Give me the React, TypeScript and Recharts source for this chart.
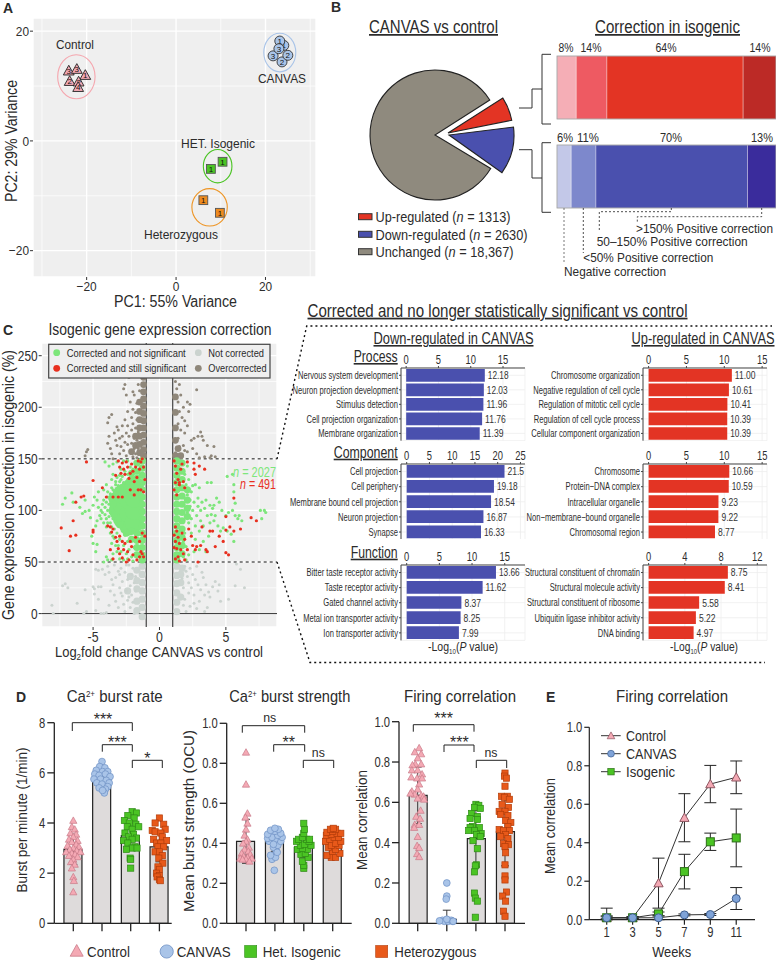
import {
  Bar,
  BarChart,
  CartesianGrid,
  Cell,
  ComposedChart,
  ErrorBar,
  LabelList,
  Line,
  Pie,
  PieChart,
  ReferenceLine,
  Scatter,
  ScatterChart,
  XAxis,
  YAxis,
} from "recharts";

const SANS = '"Liberation Sans", Arial, sans-serif';
const INK = "#2b2b2b";

// ---- A: PCA
const pcaControl = [
  { x: -24, y: 12.8, label: "3" },
  { x: -22.2, y: 13.1, label: "3" },
  { x: -20.3, y: 12, label: "1" },
  { x: -23.8, y: 10.9, label: "2" },
  { x: -21.8, y: 10.8, label: "2" },
  { x: -21.9, y: 9.8, label: "4" },
];
const pcaCanvas = [
  { x: 24.1, y: 17.4, label: "1" },
  { x: 23.2, y: 18.2, label: "1" },
  { x: 23.7, y: 14.4, label: "2" },
  { x: 21.7, y: 15.5, label: "3" },
  { x: 25, y: 15.6, label: "2" },
  { x: 23, y: 16.8, label: "3" },
];
const pcaIsogenic = [
  { x: 10.4, y: -3.8, label: "1" },
  { x: 7.8, y: -5.1, label: "1" },
];
const pcaHet = [
  { x: 6.1, y: -10.8, label: "1" },
  { x: 9.8, y: -13.1, label: "1" },
];
const ringControl = [{ x: -22.3, y: 11.7 }];
const ringCanvas = [{ x: 23.2, y: 16.1 }];
const ringIsogenic = [{ x: 9.3, y: -4.6 }];
const ringHet = [{ x: 7.5, y: -12.1 }];

// ---- B: pie and stacked bars
const pieSlices = [
  { name: "Up-regulated", value: 1313 },
  { name: "Down-regulated", value: 2630 },
  { name: "Unchanged", value: 18367 },
];
const upShares = [8.8, 14, 62.2, 15];
const downShares = [6.5, 11.3, 69.2, 13];
const upColors = ["#F5AEB6", "#EE5A62", "#E33424", "#BC2A26"];
const downColors = ["#C3C8E8", "#7D88CC", "#4A50AE", "#3A2C9C"];

// ---- C: volcano-like scatter, each list
const notCorrected = [
  [-8.1, 8], [-8, 0], [-7.3, 27], [-7.1, 29], [-6.9, 25], [-6.2, 10], [-5.7, 0], [-5.6, 23], [-5, 26], [-4.9, 24], [-4.9, 19], [-4.6, 26],
  [-4.4, 26], [-4.6, 14], [-4.8, 3], [-4.4, 0], [-4.2, 0], [-4, 1], [-4.8, 43], [-4.6, 42], [-4.3, 43], [-4.1, 38], [-3.9, 46], [-3.8, 40],
  [-3.6, 33], [-3.5, 28], [-3.7, 22], [-3.4, 18], [-3.3, 12], [-3.1, 6], [-3, 25], [-3, 38], [-2.9, 44], [-2.8, 31], [-2.8, 17], [-2.7, 9],
  [-2.6, 2], [-2.6, 40], [-2.5, 22], [-2.4, 13], [-2.4, 33], [-2.3, 47], [-2.2, 27], [-2.2, 6], [-2.1, 18], [-2.1, 38], [-2, 11], [-2, 44],
  [-1.9, 0], [-1.9, 30], [-1.8, 22], [-1.8, 36], [-3.3, 35], [-3.4, 47], [-3.1, 41], [-2.9, 20], [-2.5, 47], [-2.3, 16], [-5.5, 2], [-3.8, 8],
  [1.9, 46], [2, 41], [2.1, 36], [2.2, 30], [2.3, 44], [2.4, 25], [2.5, 38], [2.6, 18], [2.7, 33], [2.8, 46], [2.9, 28], [3, 12], [3.1, 23],
  [3.2, 40], [3.3, 35], [3.4, 18], [3.5, 28], [3.6, 6], [3.7, 21], [3.8, 16], [4, 26], [4.2, 31], [4.4, 22], [4.6, 12], [4.5, 28], [5.2, 14],
  [5.7, 27], [6.4, 25], [6.1, 43], [5.8, 48], [2, 2], [2.3, 7], [1.9, 14], [2.2, 20], [2.8, 5], [3.4, 2], [2.6, 10], [1.8, 25], [1.7, 34], [1.8, 8],
];
const notCorrectedDense = [
  [-1.3, 46], [-1.3, 38], [-1.3, 30], [-1.3, 22], [-1.3, 14], [-1.3, 6], [-1.3, -3], [-1.7, 42], [-1.7, 32], [-1.7, 24], [-1.7, 12], [-1.7, 3],
  [1.3, 46], [1.3, 37], [1.3, 29], [1.3, 20], [1.3, 11], [1.3, 2], [1.7, 44], [1.6, 30], [1.6, 16], [-2.2, 36], [-2.4, 22], [1.6, 38],
];
const corrected = [
  [-7.1, 112], [-6.6, 117], [-7.3, 106], [-6.5, 108], [-5.6, 110], [-6, 103], [-5.8, 97], [-5.6, 99], [-5.3, 100], [-5, 105], [-4.9, 113],
  [-4.7, 110], [-4.6, 118], [-4.2, 120], [-4, 125], [-3.9, 118], [-3.6, 130], [-3.5, 135], [-3.3, 125], [-3, 128], [-5.2, 93], [-4.8, 85],
  [-4.7, 90], [-4.5, 95], [-4.4, 100], [-4.1, 103], [-5.1, 75], [-5, 68], [-4.8, 60], [-4.7, 67], [-4.2, 50], [-4, 55], [-3.9, 52], [-3.6, 68],
  [-3.7, 78], [-3.5, 58], [-3.2, 60], [-3.4, 73], [-2.9, 140], [-2.8, 133], [-4.1, 147], [-3.8, 143], [-3.5, 145], [-3.2, 147], [-2.7, 148],
  [-2.4, 135], [-2.2, 142], [-2, 130], [-3.9, 113], [-3.8, 106], [-3.7, 98], [-4, 92], [-3.9, 88], [-3.6, 122], [-3.4, 118], [-3.2, 132],
  [-3.1, 118], [-2.9, 124], [-2.6, 122], [-2.5, 128], [-2.3, 126], [-2, 140], [-1.8, 146], [-2.4, 148], [-3.4, 82], [-3.2, 78], [-3, 72],
  [-2.8, 80], [-2.6, 76], [-2.4, 70], [-2.2, 78], [-2, 72], [-3.1, 66], [-2.9, 60], [-2.7, 66], [-2.5, 58], [-2.3, 62], [-2.1, 55], [-1.9, 64],
  [-3, 53], [-2.7, 52], [-2.4, 53], [-2, 51], [-1.8, 58], [-3.6, 52], [-3.3, 90], [-4.2, 110], [-4.3, 98], [-4.6, 103],
  [-4.4, 92], [-4.2, 88], [-4, 84], [-3.8, 94], [-3.7, 88], [-3.6, 84], [-3.5, 92], [-4.1, 96], [-4.3, 106], [-4, 108], [-3.9, 100], [-3.7, 116],
  [-3.5, 120], [-3.4, 112], [-3.3, 128], [-3.1, 124], [-3, 134], [-2.9, 130], [-2.7, 127], [-2.6, 138], [-2.4, 130], [-2.2, 132], [-3.5, 75], [-3.3, 66],
  [1.7, 147], [1.9, 135], [2, 125], [2.2, 130], [2.4, 118], [2.7, 125], [3, 122], [3.6, 127], [3.9, 127], [2.9, 112], [3.2, 108], [3.5, 110],
  [3.8, 105], [4, 102], [4.3, 112], [4.5, 108], [4.7, 100], [5, 95], [5.2, 98], [5.5, 100], [5.1, 133], [5.5, 135], [5.6, 125], [5.6, 118],
  [5.7, 107], [5.7, 95], [5.9, 92], [6, 95], [6.2, 90], [7.6, 100], [7.9, 100], [8, 98], [7.7, 92], [2.5, 100], [2.8, 95], [3.1, 90], [3.3, 85],
  [3.6, 95], [3.8, 88], [4.1, 90], [4.4, 85], [4.6, 80], [4.8, 83], [5.1, 80], [5.4, 77], [5.6, 70], [2.2, 88], [2.4, 78], [2.7, 72], [3, 80],
  [3.3, 70], [3.7, 75], [2, 65], [2.2, 57], [2.6, 60], [3, 62], [3.5, 60], [2.3, 110], [2.6, 108], [2.9, 104], [3.1, 100], [3.4, 102], [3.9, 96],
  [4.2, 95], [2.1, 98], [2.4, 92], [2.7, 85], [1.9, 78], [1.8, 70], [1.8, 55], [2, 52], [2.1, 115], [2.3, 104], [2.5, 124], [2.1, 143], [4.1, 105],
];
const correctedCoreLarge = [
  [-3.1, 100], [-3.1, 110], [-2.8, 92], [-2.8, 105], [-2.8, 116], [-2.3, 85], [-2.3, 97], [-2.3, 110], [-2.3, 120], [-1.9, 88], [-1.9, 100], [-1.9, 112], [-1.9, 124],
];
const correctedCoreSmall = [
  [-1.3, 148], [-1.3, 141], [-1.3, 134], [-1.3, 127], [-1.3, 120], [-1.3, 113], [-1.3, 106], [-1.3, 99], [-1.3, 92], [-1.3, 85], [-1.3, 78], [-1.3, 71], [-1.3, 64], [-1.3, 57], [-1.3, 52],
  [-1.7, 146], [-1.7, 138], [-1.7, 131], [-1.7, 124], [-1.7, 78], [-1.7, 71], [-1.7, 64], [-1.7, 57], [-2.1, 136], [-2.1, 130], [-2.1, 80], [-2.1, 72], [-2.5, 78], [-3, 86], [-3.4, 96], [-3.5, 106], [-3.6, 112],
  [1.3, 148], [1.3, 141], [1.3, 134], [1.3, 127], [1.3, 120], [1.3, 113], [1.3, 106], [1.3, 99], [1.3, 92], [1.3, 85], [1.3, 78], [1.3, 71], [1.3, 64], [1.3, 57], [1.3, 52],
  [1.7, 146], [1.7, 138], [1.7, 130], [1.7, 122], [1.7, 114], [1.7, 106], [1.7, 98], [1.7, 90], [1.7, 82], [1.7, 74], [1.7, 66], [1.7, 58], [2.1, 120], [2.1, 110], [2.1, 102], [2.1, 94],
];
const stillSignificant = [
  [-7.4, 83], [-6.7, 75], [-6.3, 76], [-6.8, 61], [-6.5, 90], [-6.3, 108], [-5.9, 113], [-5.7, 114], [-5.5, 147], [-5, 129], [-5, 81], [-5, 79],
  [-4.3, 122], [-4, 113], [-3.9, 85], [-3.7, 84], [-3.5, 82], [-3.7, 62], [-3.5, 53], [-3.6, 79], [-3.3, 74], [-3.2, 70], [-3.1, 63], [-3, 58],
  [-3, 75], [-2.8, 70], [-2.8, 54], [-2.7, 62], [-2.6, 68], [-2.5, 50], [-2.4, 60], [-2.3, 52], [-2.2, 70], [-2.1, 65], [-2, 57], [-1.8, 74], [-1.7, 52],
  [-1.5, 55], [-1.4, 60], [-1.3, 58], [-1.2, 55], [-1.1, 75], [-1.5, 70], [-1.3, 78], [-3.1, 148], [-3, 142], [-2.9, 136], [-2.8, 146], [-2.7, 140],
  [-2.6, 135], [-2.5, 147], [-2.4, 142], [-2.3, 131], [-2.2, 136], [-2.1, 145], [-2, 138], [-1.9, 128], [-1.8, 142], [-1.7, 132], [-1.6, 148], [-1.5, 140],
  [-1.4, 147], [-1.3, 150], [-1.2, 142], [-1.1, 130], [-1.4, 120], [-1.6, 120], [-1.2, 118], [-3.3, 134], [-3.5, 113], [-3.1, 113], [-2.8, 113], [-1.9, 115], [-2.2, 120],
  [1.1, 148], [1.2, 143], [1.3, 136], [1.4, 130], [1.2, 127], [1.5, 125], [1.6, 140], [1.7, 145], [1.8, 128], [1.9, 122], [2.1, 147], [2.6, 146], [2.7, 135],
  [3, 143], [3.4, 140], [1.1, 120], [1.3, 115], [1.5, 127], [1.2, 84], [1.3, 80], [1.1, 76], [1.2, 70], [1.4, 74], [1.1, 64], [1.3, 63], [1.5, 68],
  [1.7, 78], [1.9, 72], [1.6, 62], [1.8, 58], [1.4, 55], [1.2, 53], [1.5, 51], [1.9, 52], [2.1, 62], [2.2, 82], [2.4, 75], [2.5, 66], [2.7, 62], [2.8, 65],
  [2.9, 50], [3.2, 84], [3.1, 66], [3.5, 62], [3.6, 60], [3.8, 80], [4, 80], [4.2, 65], [4.5, 75], [4.8, 70], [5, 59], [5.2, 57], [5, 81], [5, 94],
  [5.6, 112], [5.3, 84], [5.6, 80], [6.1, 82], [6.9, 93], [7.3, 90], [2.6, 140],
];
const overcorrected = [
  [-5.5, 157], [-5.4, 159], [-5.6, 153], [-3.9, 165], [-3.8, 172], [-3.7, 160], [-3.6, 155], [-3.4, 175], [-3.3, 168], [-3.2, 163], [-3.1, 178], [-3, 170],
  [-3, 155], [-2.9, 162], [-2.8, 182], [-2.8, 172], [-2.7, 158], [-2.6, 188], [-2.6, 166], [-2.5, 175], [-2.5, 153], [-2.4, 196], [-2.4, 182], [-2.4, 164],
  [-2.3, 172], [-2.2, 158], [-2.2, 205], [-2.1, 190], [-2.1, 178], [-2.1, 165], [-2, 152], [-2, 198], [-2, 184], [-1.9, 170], [-1.9, 160], [-1.9, 212],
  [-1.8, 195], [-1.8, 180], [-1.8, 155], [-1.7, 204], [-1.7, 188], [-1.7, 168], [-1.7, 151], [-1.6, 222], [-1.6, 176], [-1.6, 160], [-3.8, 190], [-3.6, 193],
  [-3.9, 185], [-2.7, 218], [-2.6, 222], [-2.5, 212], [-2.3, 229], [-1.5, 232], [-1.4, 240], [-1.3, 247], [-1.5, 216], [-2, 215], [-3.2, 181], [-3.5, 150],
  [1.2, 225], [1.3, 218], [1.5, 222], [1.6, 212], [1.4, 205], [1.8, 200], [2.1, 205], [2.3, 203], [2.8, 217], [1.5, 196], [1.7, 190], [1.9, 187], [2.2, 196],
  [1.4, 184], [1.6, 178], [1.9, 175], [2.1, 182], [2.4, 168], [2.6, 170], [2.9, 172], [3.1, 176], [3.2, 172], [3.3, 168], [3.6, 163], [4.1, 162], [1.8, 163],
  [2.1, 157], [2.5, 160], [2.8, 155], [3, 151], [3.4, 152], [3.8, 151], [3.9, 153], [4.2, 152], [1.4, 170], [1.5, 162], [1.9, 158], [1.2, 156],
];
const overcorrectedDense = [
  [-1.2, 250], [-1.2, 243], [-1.2, 236], [-1.2, 229], [-1.2, 222], [-1.2, 215], [-1.2, 208], [-1.2, 201], [-1.2, 194], [-1.2, 187], [-1.2, 180], [-1.2, 173], [-1.2, 166], [-1.2, 159], [-1.2, 153],
  [-1.5, 205], [-1.5, 196], [-1.5, 188], [-1.5, 180], [-1.5, 172], [-1.5, 164], [-1.5, 156], [-1.8, 172], [-1.8, 163], [-2.1, 157],
  [1.2, 210], [1.2, 195], [1.2, 180], [1.2, 168], [1.2, 153], [1.4, 160], [1.6, 153],
];

// ---- C: enrichment bars
const processDownNames = ["Nervous system development", "Neuron projection development", "Stimulus detection", "Cell projection organization", "Membrane organization"];
const processDownValues = [12.18, 12.03, 11.96, 11.76, 11.39];
const componentDownNames = ["Cell projection", "Cell periphery", "Membrane bound cell projection", "Neuron projection", "Synapse"];
const componentDownValues = [21.5, 19.18, 18.54, 16.87, 16.33];
const functionDownNames = ["Bitter taste receptor activity", "Taste receptor activity", "Gated channel activity", "Metal ion transporter activity", "Ion transporter activity"];
const functionDownValues = [13.66, 11.62, 8.37, 8.25, 7.99];
const processUpNames = ["Chromosome organization", "Negative regulation of cell cycle", "Regulation of mitotic cell cycle", "Regulation of cell cycle process", "Cellular component organization"];
const processUpValues = [11.0, 10.61, 10.41, 10.39, 10.39];
const componentUpNames = ["Chromosome", "Protein−DNA complex", "Intracellular organelle", "Non−membrane−bound organelle", "Chromosomal region"];
const componentUpValues = [10.66, 10.59, 9.23, 9.22, 8.77];
const functionUpNames = ["Structural constituent of chromatin", "Structural molecule activity", "Structural constituent of ribosome", "Ubiquitin ligase inhibitor activity", "DNA binding"];
const functionUpValues = [8.75, 8.41, 5.58, 5.22, 4.97];

// ---- D: bars and swarms, points are [jitter, value]
const rateMeans = [2.95, 5.85, 3.5, 3.05];
const rateSd: any[] = [0.6, 0.28, 0.5, 0.6];
const strengthMeans = [0.41, 0.41, 0.38, 0.4];
const strengthSd: any[] = [0.11, 0.05, 0.05, 0.04];
const firingMeans = [0.635, 0.02, 0.42, 0.455];
const firingSd: any[] = [0.14, [0.02, 0.045], 0.14, 0.17];

const rateControl = [[0, 4.1], [-0.05, 3.85], [0.05, 3.75], [-0.1, 3.6], [0.1, 3.55], [0, 3.45], [-0.15, 3.35], [0.15, 3.3], [-0.05, 3.25], [0.1, 3.15], [-0.2, 3.1], [0.2, 3.05], [0, 3], [-0.12, 2.95], [0.12, 2.9], [-0.25, 2.85], [0.25, 2.85], [-0.05, 2.8], [0.06, 2.75], [-0.15, 2.7], [0.15, 2.65], [0, 2.55], [-0.08, 2.45], [0.05, 2.35], [-0.05, 2.2], [0, 1.85], [0.02, 1.7], [0, 1.25]];
const rateCanvas = [[0, 6.45], [-0.08, 6.25], [0.1, 6.2], [-0.2, 6.1], [0.02, 6.05], [0.2, 6.05], [-0.25, 5.95], [-0.1, 5.9], [0.12, 5.95], [0.28, 5.85], [-0.28, 5.75], [-0.05, 5.75], [0.15, 5.7], [0.25, 5.6], [-0.18, 5.6], [0, 5.55], [0.2, 5.45], [-0.1, 5.4], [0.12, 5.35], [0.08, 5.2], [0.02, 5.3]];
const rateIsogenic = [[0.05, 4.45], [0.2, 4.4], [-0.1, 4.3], [0.12, 4.2], [-0.22, 4.1], [-0.05, 4], [0.18, 3.95], [-0.12, 3.85], [0.28, 3.85], [0.05, 3.75], [-0.2, 3.6], [0.1, 3.55], [-0.08, 3.45], [0.2, 3.4], [-0.25, 3.3], [0.05, 3.35], [-0.1, 3.2], [0.15, 3.05], [0.05, 3], [-0.15, 2.95], [0.22, 3], [-0.02, 2.6], [0, 2.55], [0, 2.2]];
const rateHet = [[0, 4.2], [-0.15, 4], [0.15, 3.95], [-0.25, 3.7], [-0.15, 3.65], [0.2, 3.75], [0.05, 3.6], [-0.2, 3.35], [0.1, 3.45], [0.25, 3.3], [-0.1, 3.2], [0.05, 3.2], [-0.05, 3.05], [0.15, 3.05], [-0.15, 2.85], [0, 2.85], [0.1, 2.7], [-0.02, 2.6], [0.12, 2.4], [-0.05, 2.25], [0, 2.15], [-0.1, 2], [0, 1.9], [-0.08, 1.85], [0, 1.75], [0.03, 1.7]];

const strengthControl = [[0, 0.855], [0, 0.695], [0.05, 0.55], [-0.02, 0.53], [0.05, 0.5], [0, 0.47], [-0.05, 0.44], [0.05, 0.42], [0, 0.41], [-0.1, 0.4], [0.1, 0.38], [-0.05, 0.37], [0.08, 0.36], [-0.15, 0.35], [0.15, 0.345], [-0.08, 0.335], [0.05, 0.33], [-0.2, 0.325], [0.2, 0.325], [0, 0.32], [0.12, 0.31], [-0.12, 0.32]];
const strengthCanvas = [[-0.02, 0.265], [-0.1, 0.32], [0.02, 0.33], [-0.15, 0.34], [0.05, 0.36], [-0.05, 0.38], [0.1, 0.39], [-0.2, 0.41], [0.2, 0.41], [0, 0.42], [-0.25, 0.425], [0.25, 0.43], [-0.1, 0.43], [0.1, 0.44], [-0.25, 0.445], [0.2, 0.45], [0, 0.46], [-0.15, 0.465], [0.12, 0.47], [0, 0.475], [-0.05, 0.395], [0.08, 0.355]];
const strengthIsogenic = [[0, 0.275], [0, 0.29], [-0.05, 0.31], [0.15, 0.33], [-0.1, 0.345], [0.05, 0.35], [-0.22, 0.37], [0.12, 0.37], [-0.05, 0.375], [0.25, 0.39], [-0.12, 0.39], [0.02, 0.395], [-0.25, 0.41], [0.18, 0.41], [0.1, 0.42], [-0.18, 0.42], [0.2, 0.42], [-0.05, 0.43], [0, 0.45], [0.02, 0.47], [0, 0.5]];
const strengthHet = [[-0.05, 0.33], [0.1, 0.33], [-0.2, 0.34], [0.25, 0.35], [0, 0.36], [0.1, 0.37], [-0.15, 0.38], [0.22, 0.39], [-0.05, 0.39], [0.1, 0.4], [-0.25, 0.41], [0.28, 0.41], [-0.1, 0.42], [0.05, 0.43], [0.2, 0.43], [-0.22, 0.44], [-0.05, 0.445], [0.15, 0.45], [0.28, 0.45], [-0.2, 0.455], [0, 0.46], [0.1, 0.47], [-0.08, 0.47], [0.02, 0.475]];

const firingControl = [[0.05, 0.87], [-0.1, 0.85], [0.12, 0.84], [0, 0.82], [-0.08, 0.79], [-0.18, 0.785], [0.12, 0.79], [-0.2, 0.76], [0, 0.76], [0.15, 0.74], [-0.22, 0.725], [-0.02, 0.72], [0.15, 0.72], [0.05, 0.69], [0, 0.665], [-0.2, 0.655], [-0.1, 0.64], [-0.25, 0.645], [0.12, 0.635], [0.2, 0.63], [0, 0.62], [0.22, 0.615], [0.1, 0.56], [-0.05, 0.53], [0.08, 0.52], [-0.1, 0.49], [0.05, 0.49], [-0.12, 0.475], [0, 0.43], [-0.02, 0.385], [0.05, 0.375], [-0.02, 0.345], [0.05, 0.33]];
const firingCanvas = [[0, 0.2], [0, 0.135], [-0.02, 0.12], [-0.15, 0.015], [-0.08, 0.01], [0.05, 0.01], [0.15, 0.015], [-0.25, 0.012], [0.2, 0.01], [0, 0.02], [0.22, 0.01]];
const firingIsogenic = [[0, 0.59], [0.1, 0.585], [-0.05, 0.575], [0.15, 0.57], [-0.15, 0.545], [0.05, 0.53], [-0.2, 0.52], [0.05, 0.515], [-0.12, 0.48], [-0.2, 0.475], [0.12, 0.475], [-0.05, 0.46], [-0.25, 0.46], [0.18, 0.445], [0.02, 0.44], [0.15, 0.43], [-0.1, 0.41], [0.05, 0.37], [0.02, 0.29], [-0.02, 0.285], [-0.05, 0.255], [-0.05, 0.15], [-0.02, 0.125], [0.05, 0.11], [-0.02, 0.03]];
const firingHet = [[0, 0.745], [-0.02, 0.73], [0.05, 0.72], [0, 0.68], [-0.12, 0.63], [0.08, 0.63], [-0.02, 0.625], [0.15, 0.615], [-0.1, 0.59], [0.12, 0.575], [-0.2, 0.555], [0, 0.555], [-0.15, 0.54], [0.1, 0.535], [0.02, 0.51], [0.2, 0.5], [0.1, 0.48], [-0.2, 0.465], [-0.05, 0.46], [0.15, 0.46], [0.02, 0.44], [-0.15, 0.43], [0.1, 0.42], [-0.05, 0.395], [0.12, 0.39], [0, 0.38], [0.02, 0.35], [0, 0.29], [0, 0.235], [0, 0.215], [0.05, 0.155], [-0.08, 0.135], [0.02, 0.11], [-0.05, 0.06], [0, 0.035]];

// ---- E: time course
const weeks = [1, 3, 5, 7, 9, 11];
const controlMean = [0.01, 0.01, 0.19, 0.53, 0.705, 0.74];
const controlErr = [0.01, 0.005, 0.13, 0.125, 0.097, 0.085];
const canvasMean = [0.01, 0.01, 0.01, 0.025, 0.027, 0.11];
const canvasErr: any[] = [[0.01, 0.05], 0.005, 0.01, 0.005, 0.005, 0.057];
const isogenicMean = [0.01, 0.01, 0.03, 0.25, 0.405, 0.425];
const isogenicErr = [0.005, 0.005, 0.01, 0.09, 0.045, 0.15];

const PINK = { fill: "#F4A9B4", stroke: "#C97A88" };
const BLUE = { fill: "#A9C4E8", stroke: "#6E90C4" };
const GREEN = { fill: "#4BC424", stroke: "#2E8B16" };
const ORANGE = { fill: "#E8591A", stroke: "#B23D0A" };

function triangle(cx: number, cy: number, s: number, c: { fill: string; stroke: string }, sw = 0.7) {
  return <polygon points={`${cx},${cy - s} ${cx - s},${cy + s * 0.8} ${cx + s},${cy + s * 0.8}`} fill={c.fill} stroke={c.stroke} strokeWidth={sw} />;
}
function square(cx: number, cy: number, s: number, c: { fill: string; stroke: string }, sw = 0.7) {
  return <rect x={cx - s} y={cy - s} width={s * 2} height={s * 2} fill={c.fill} stroke={c.stroke} strokeWidth={sw} />;
}
function circle(cx: number, cy: number, s: number, c: { fill: string; stroke: string }, sw = 0.7) {
  return <circle cx={cx} cy={cy} r={s} fill={c.fill} stroke={c.stroke} strokeWidth={sw} />;
}

const toXY = (pts: number[][]) => pts.map(([x, y]) => ({ x, y }));

// the figure uses a narrow face that is not installed, so ticks are squeezed sideways
const squeezedTick = (size: number, sx: number, mode: "left" | "top" | "bottom", fmt: (v: any) => string = String) => (p: any) => (
  <g transform={`translate(${p.x},${p.y})`}>
    <text
      transform={`scale(${sx},1)`}
      textAnchor={mode === "left" ? "end" : "middle"}
      dy={mode === "left" ? "0.35em" : mode === "top" ? "-0.05em" : "0.75em"}
      fontSize={size}
      fontFamily={SANS}
      fill="#2e2e2e"
    >
      {fmt(p.payload.value)}
    </text>
  </g>
);
const minus = (v: number) => String(v).replace("-", "−");

function PcaPanel() {
  const mark = (kind: "tri" | "cir" | "sq", c: { fill: string; stroke: string }) => (p: any) => (
    <g>
      {kind === "tri" && triangle(p.cx, p.cy, 5.4, c, 0.9)}
      {kind === "cir" && circle(p.cx, p.cy, 5, c, 0.9)}
      {kind === "sq" && square(p.cx, p.cy, 4.4, c, 0.9)}
      <text x={p.cx} y={p.cy + 3} textAnchor="middle" fontSize={8} fontFamily={SANS} fill="#111">
        {p.payload.label}
      </text>
    </g>
  );
  const ring = (rx: number, ry: number, color: string) => (p: any) => (
    <ellipse cx={p.cx} cy={p.cy} rx={rx} ry={ry} fill="none" stroke={color} strokeWidth={1.1} />
  );
  return (
    <div style={{ position: "absolute", left: 0, top: 18 }}>
      <ScatterChart width={316} height={284} margin={{ top: 0, right: 0, bottom: 0, left: 0 }}>
        <CartesianGrid fill="#EFEFEF" stroke="#fff" strokeWidth={1.4} />
        <XAxis type="number" dataKey="x" domain={[-32, 31.3]} ticks={[-20, 0, 20]} axisLine={false} tickSize={3} tickMargin={1} height={25} tick={squeezedTick(13.5, 0.88, "bottom", minus)} stroke="#333" />
        <YAxis type="number" dataKey="y" domain={[-24.8, 22.4]} ticks={[-20, 0, 20]} axisLine={false} tickSize={3} tickMargin={1} width={33} tick={squeezedTick(13.5, 0.88, "left", minus)} stroke="#333" />
        {[-10, 10].map((v) => (
          <ReferenceLine key={`h${v}`} y={v} stroke="#fff" strokeWidth={0.7} />
        ))}
        {[-30, -10, 10, 30].map((v) => (
          <ReferenceLine key={`v${v}`} x={v} stroke="#fff" strokeWidth={0.7} />
        ))}
        <Scatter data={ringControl} isAnimationActive={false} shape={ring(18.7, 22, "#F5A6AE")} />
        <Scatter data={ringCanvas} isAnimationActive={false} shape={ring(16, 19.3, "#A9C4E8")} />
        <Scatter data={ringIsogenic} isAnimationActive={false} shape={ring(14.3, 16.7, "#4BC424")} />
        <Scatter data={ringHet} isAnimationActive={false} shape={ring(17.7, 18.7, "#EE9525")} />
        <Scatter data={pcaControl} isAnimationActive={false} shape={mark("tri", { fill: "#F4A9B4", stroke: "#222" })} />
        <Scatter data={pcaCanvas} isAnimationActive={false} shape={mark("cir", { fill: "#A9C4E8", stroke: "#333" })} />
        <Scatter data={pcaIsogenic} isAnimationActive={false} shape={mark("sq", { fill: "#4BC424", stroke: "#555" })} />
        <Scatter data={pcaHet} isAnimationActive={false} shape={mark("sq", { fill: "#EE8B1F", stroke: "#555" })} />
      </ScatterChart>
    </div>
  );
}

function PiePanel() {
  const fills = ["#E33424", "#4A50AE", "#8F8A7E"];
  const one = (i: number, cx: number, cy: number, start: number) => (
    <Pie
      key={i}
      data={pieSlices}
      dataKey="value"
      cx={cx}
      cy={cy}
      outerRadius={65}
      innerRadius={0}
      startAngle={start}
      endAngle={start - 360}
      isAnimationActive={false}
      labelLine={false}
      label={false}
    >
      {pieSlices.map((s, j) => (
        <Cell key={s.name} fill={j === i ? fills[j] : "none"} stroke={j === i ? "#222" : "none"} strokeWidth={1.1} />
      ))}
    </Pie>
  );
  return (
    <div style={{ position: "absolute", left: 360, top: 60 }}>
      <PieChart width={170} height={150} margin={{ top: 0, right: 0, bottom: 0, left: 0 }}>
        {one(2, 75, 75, 32.6)}
        {one(0, 88, 73, 32.5)}
        {one(1, 89, 75, 28.2)}
      </PieChart>
    </div>
  );
}

function ShareBars({ top, shares, colors }: { top: number; shares: number[]; colors: string[] }) {
  const row: Record<string, any> = { name: "share" };
  shares.forEach((v, i) => (row[`s${i}`] = v));
  return (
    <div style={{ position: "absolute", left: 557, top }}>
      <BarChart width={219} height={63} layout="vertical" data={[row]} margin={{ top: 0, right: 0, bottom: 0, left: 0 }} barCategoryGap={0}>
        <XAxis type="number" domain={[0, 100]} hide />
        <YAxis type="category" dataKey="name" hide />
        {shares.map((_, i) => (
          <Bar key={i} dataKey={`s${i}`} stackId="a" fill={colors[i]} stroke="#ffffff" strokeOpacity={0.45} strokeWidth={0.7} isAnimationActive={false} />
        ))}
      </BarChart>
    </div>
  );
}

function VolcanoPanel() {
  const dot = (r: number, fill: string) => (p: any) => <circle cx={p.cx} cy={p.cy} r={r} fill={fill} />;
  return (
    <div style={{ position: "absolute", left: 0, top: 343 }}>
      <ScatterChart width={277} height={309} margin={{ top: 0, right: 0, bottom: 0, left: 0 }}>
        <CartesianGrid fill="#EFEFEF" stroke="#fff" strokeWidth={1.3} />
        <XAxis type="number" dataKey="x" domain={[-8.87, 8.85]} ticks={[-5, 0, 5]} axisLine={false} tickSize={3} tickMargin={1} height={25} tick={squeezedTick(14, 0.88, "bottom")} stroke="#333" />
        <YAxis type="number" dataKey="y" domain={[-13, 262.3]} ticks={[0, 50, 100, 150, 200, 250]} axisLine={false} tickSize={3} tickMargin={1} width={41.7} tick={squeezedTick(14, 0.85, "left")} stroke="#333" />
        {[25, 75, 125, 175, 225].map((v) => (
          <ReferenceLine key={`h${v}`} y={v} stroke="#fff" strokeWidth={0.7} />
        ))}
        {[-7.5, -2.5, 2.5, 7.5].map((v) => (
          <ReferenceLine key={`v${v}`} x={v} stroke="#fff" strokeWidth={0.7} />
        ))}
        <Scatter data={toXY(notCorrectedDense)} isAnimationActive={false} shape={dot(3.6, "#CDD5D1")} />
        <Scatter data={toXY(notCorrected)} isAnimationActive={false} shape={dot(1.5, "#CBD3CF")} />
        <Scatter data={toXY(overcorrectedDense)} isAnimationActive={false} shape={dot(3.4, "#8F877A")} />
        <Scatter data={toXY(overcorrected)} isAnimationActive={false} shape={dot(1.5, "#8F877A")} />
        <Scatter data={toXY(correctedCoreLarge)} isAnimationActive={false} shape={dot(9.5, "#7DE67B")} />
        <Scatter data={toXY(correctedCoreSmall)} isAnimationActive={false} shape={dot(3.6, "#7DE67B")} />
        <Scatter data={toXY(corrected)} isAnimationActive={false} shape={dot(1.6, "#7DE67B")} />
        <Scatter data={toXY(stillSignificant)} isAnimationActive={false} shape={dot(1.6, "#E8301F")} />
        <ReferenceLine y={0} stroke="#333" strokeWidth={1} />
        <ReferenceLine y={150} stroke="#111" strokeWidth={1} strokeDasharray="3 3" />
        <ReferenceLine y={50} stroke="#111" strokeWidth={1} strokeDasharray="3 3" />
        <ReferenceLine x={-1} stroke="#222" strokeWidth={1} />
        <ReferenceLine x={1} stroke="#222" strokeWidth={1} />
      </ScatterChart>
    </div>
  );
}

function EnrichBars(props: { axisX: number; axisY: number; w: number; h: number; names: string[]; values: number[]; domain: number[]; ticks: number[]; color: string }) {
  const { axisX, axisY, w, h, names, values, domain, ticks, color } = props;
  const rows = names.map((name, i) => ({ name, value: values[i], label: values[i] === 21.5 ? "21.5" : values[i].toFixed(2) }));
  const labelW = 125;
  const valueLabel = (p: any) => (
    <text
      x={p.x + p.width + 3}
      y={p.y + p.height / 2 + 4}
      fontSize={10.5}
      fontFamily={SANS}
      fill="#333"
      textLength={String(p.value).length * 4.15}
      lengthAdjust="spacingAndGlyphs"
    >
      {p.value}
    </text>
  );
  return (
    <div style={{ position: "absolute", left: axisX - labelW, top: axisY - 18 }}>
      <BarChart width={labelW + w + 8} height={18 + h} layout="vertical" data={rows} margin={{ top: 0, right: 8, bottom: 0, left: 0 }} barSize={12.7}>
        <CartesianGrid stroke="#EDEDED" strokeWidth={0.8} />
        <XAxis type="number" orientation="top" domain={domain} ticks={ticks} interval={0} height={18} tickSize={2} tickMargin={1} stroke="#444" tick={squeezedTick(12, 0.78, "top")} />
        <YAxis type="category" dataKey="name" width={labelW} interval={0} tickSize={2} tickMargin={1} stroke="#444" tick={squeezedTick(10.7, 0.71, "left")} />
        <Bar dataKey="value" fill={color} isAnimationActive={false}>
          <LabelList dataKey="label" content={valueLabel} />
        </Bar>
      </BarChart>
    </div>
  );
}

function Swarm(props: {
  axisX: number; right: number; yTop: number; yZero: number; c0: number; step: number; max: number; ticks: number[]; fmt?: (v: number) => string;
  means: number[]; sd: any[]; groups: number[][][];
}) {
  const { axisX, right, yTop, yZero, c0, step, max, ticks, fmt, means, sd, groups } = props;
  const barsData = means.map((value, i) => ({ pos: i, value, sd: sd[i] }));
  const domain = [(axisX - c0) / step, (right - c0) / step];
  const styles = [
    (p: any) => triangle(p.cx, p.cy, 3.6, PINK),
    (p: any) => circle(p.cx, p.cy, 3.4, BLUE),
    (p: any) => square(p.cx, p.cy, 3.1, GREEN),
    (p: any) => square(p.cx, p.cy, 3.1, ORANGE),
  ];
  // whole pixel box around the plot, margins take up the fractions
  const left = Math.floor(axisX - 40);
  const top = Math.floor(yTop - 8);
  const width = Math.ceil(right - left);
  const height = Math.ceil(yZero - top + 12);
  return (
    <div style={{ position: "absolute", left, top }}>
      <ComposedChart width={width} height={height} data={barsData} margin={{ top: yTop - top, right: width - (right - left), bottom: 0, left: 0 }}>
        <XAxis type="number" dataKey="pos" domain={domain} ticks={[0, 1, 2, 3]} interval={0} height={height - (yZero - top)} tickSize={8} tickFormatter={() => ""} stroke="#222" strokeWidth={1.3} />
        {/* jittered points get their own hidden axis so they do not shrink the bar band */}
        <XAxis xAxisId="jitter" type="number" dataKey="pos" domain={domain} hide />
        <YAxis type="number" domain={[0, max]} ticks={ticks} interval={0} width={axisX - left} tickSize={7} tickMargin={2} stroke="#222" strokeWidth={1.3} tick={squeezedTick(14, 0.8, "left", fmt ?? String)} />
        <Bar dataKey="value" barSize={18} fill="#DEDBDB" stroke="#222" strokeWidth={1.2} isAnimationActive={false} />
        {groups.map((g, i) => (
          <Scatter key={i} xAxisId="jitter" dataKey="value" data={g.map(([j, v]) => ({ pos: i + j, value: v }))} isAnimationActive={false} shape={styles[i]} />
        ))}
        <Scatter xAxisId="jitter" dataKey="value" data={barsData} isAnimationActive={false} shape={() => <g />}>
          <ErrorBar dataKey="sd" direction="y" width={4} stroke="#222" strokeWidth={0.9} />
        </Scatter>
      </ComposedChart>
    </div>
  );
}

function TimeCourse() {
  const rows = weeks.map((week, i) => ({
    week,
    control: controlMean[i],
    controlErr: controlErr[i],
    canvas: canvasMean[i],
    canvasErr: canvasErr[i],
    isogenic: isogenicMean[i],
    isogenicErr: isogenicErr[i],
  }));
  const dot = (draw: (cx: number, cy: number) => any) => (p: any) => <g key={p.index}>{draw(p.cx, p.cy)}</g>;
  return (
    <div style={{ position: "absolute", left: 549, top: 721 }}>
      <ComposedChart width={206} height={226} data={rows} margin={{ top: 6.3, right: 0, bottom: 0, left: 0 }}>
        <XAxis type="number" dataKey="week" domain={[-0.345, 12.45]} ticks={weeks} interval={0} height={27.3} tickSize={5} tickMargin={2} stroke="#222" strokeWidth={1.2} tick={squeezedTick(14, 0.8, "bottom")} />
        <YAxis type="number" domain={[0, 1]} ticks={[0, 0.2, 0.4, 0.6, 0.8, 1]} interval={0} width={40.3} tickSize={5} tickMargin={2} stroke="#222" strokeWidth={1.2} tick={squeezedTick(14, 0.8, "left", (v) => v.toFixed(1))} />
        <Line dataKey="control" stroke="#333" strokeWidth={1} isAnimationActive={false} dot={dot((x, y) => triangle(x, y, 4.6, { fill: "#F4A9B4", stroke: "#8E5560" }, 1))}>
          <ErrorBar dataKey="controlErr" direction="y" width={6} stroke="#222" strokeWidth={1} />
        </Line>
        <Line dataKey="isogenic" stroke="#333" strokeWidth={1} isAnimationActive={false} dot={dot((x, y) => square(x, y, 4, { fill: "#4BC424", stroke: "#2D6F18" }, 1))}>
          <ErrorBar dataKey="isogenicErr" direction="y" width={6} stroke="#222" strokeWidth={1} />
        </Line>
        <Line dataKey="canvas" stroke="#333" strokeWidth={1} isAnimationActive={false} dot={dot((x, y) => circle(x, y, 4, { fill: "#7FA3D8", stroke: "#3F5F8F" }, 1))}>
          <ErrorBar dataKey="canvasErr" direction="y" width={6} stroke="#222" strokeWidth={1} />
        </Line>
      </ComposedChart>
    </div>
  );
}

// text helper, w squeezes to the width seen in the figure
function T(p: { x: number; y: number; s: number; w?: number; a?: "start" | "middle" | "end"; rot?: boolean; fill?: string; bold?: boolean; u?: boolean; children: any }) {
  const extra: any = p.w ? { textLength: p.w, lengthAdjust: "spacingAndGlyphs" } : {};
  return (
    <text
      x={p.x}
      y={p.y}
      fontSize={p.s}
      textAnchor={p.a ?? "start"}
      fill={p.fill ?? INK}
      fontWeight={p.bold ? 700 : 400}
      textDecoration={p.u ? "underline" : undefined}
      fontFamily={SANS}
      transform={p.rot ? `rotate(-90 ${p.x} ${p.y})` : undefined}
      {...extra}
    >
      {p.children}
    </text>
  );
}

function Overlay() {
  const L = (d: string, dash?: string, w = 1, c = "#333") => <path d={d} fill="none" stroke={c} strokeWidth={w} strokeDasharray={dash} />;
  return (
    <svg width={776} height={961} style={{ position: "absolute", left: 0, top: 0, pointerEvents: "none" }}>
      <T x={3} y={13} s={14} bold>A</T>
      <T x={331} y={12} s={14} bold>B</T>
      <T x={3} y={335} s={14} bold>C</T>
      <T x={16} y={702} s={14} bold>D</T>
      <T x={546} y={702} s={14} bold>E</T>

      {/* A */}
      <T x={75} y={49} s={13.5} a="middle" w={38}>Control</T>
      <T x={282} y={83} s={13.5} a="middle" w={48}>CANVAS</T>
      <T x={218} y={148} s={13.5} a="middle" w={74}>HET. Isogenic</T>
      <T x={181} y={239} s={13.5} a="middle" w={74}>Heterozygous</T>
      <T x={175.5} y={307} s={16} a="middle" w={123}>PC1: 55% Variance</T>
      <T x={17} y={141} s={16} a="middle" w={122} rot>PC2: 29% Variance</T>

      {/* B */}
      <T x={433.5} y={33} s={17.5} a="middle" w={129} u>CANVAS vs control</T>
      <T x={667.5} y={33} s={17.5} a="middle" w={145} u>Correction in isogenic</T>
      {[["8%", 566], ["14%", 591], ["64%", 666], ["14%", 760]].map(([t, x]) => (
        <T key={`u${x}`} x={x as number} y={52} s={12.5} a="middle" w={(t as string).length === 2 ? 15 : 21}>{t}</T>
      ))}
      {[["6%", 565], ["11%", 588], ["70%", 671], ["13%", 762]].map(([t, x]) => (
        <T key={`d${x}`} x={x as number} y={142} s={13.5} a="middle" w={(t as string).length === 2 ? 16 : 22}>{t}</T>
      ))}
      {L("M519 108 H532 V89 H542 M551 54.3 H542 V124 H551", undefined, 1, "#333")}
      {L("M519 149.7 H532 V178 H542 M551 142.7 H542 V212.3 H551", undefined, 1, "#333")}
      <rect x={557} y={56} width={219} height={63} fill="none" stroke="#999" strokeWidth={0.8} />
      <rect x={557} y={145} width={219} height={63} fill="none" stroke="#999" strokeWidth={0.8} />
      <rect x={358.5} y={213.7} width={13.5} height={6} fill="#E33424" stroke="#333" strokeWidth={1} />
      <rect x={358.5} y={231.3} width={13.5} height={6} fill="#4A50AE" stroke="#333" strokeWidth={1} />
      <rect x={358.5} y={248.7} width={13.5} height={6} fill="#8F8A7E" stroke="#333" strokeWidth={1} />
      <T x={375.5} y={222} s={15} w={135}>Up-regulated (<tspan fontStyle="italic">n</tspan> = 1313)</T>
      <T x={375.5} y={239.5} s={15} w={152}>Down-regulated (<tspan fontStyle="italic">n</tspan> = 2630)</T>
      <T x={375.5} y={257} s={15} w={138}>Unchanged (<tspan fontStyle="italic">n</tspan> = 18,367)</T>
      {L("M564 208 V263", "2 2", 0.8, "#555")}
      {L("M583.3 208 V253", "2 2", 0.8, "#222")}
      {L("M671.3 208 V211.7 H599.3 V231.7", "2 2", 0.8, "#222")}
      {L("M761.7 208 V216.7 H637.3 V223", "2 2", 0.8, "#222")}
      <T x={636} y={232.7} s={13.5} w={137}>{">150% Positive correction"}</T>
      <T x={596.7} y={245.7} s={13.5} w={151}>50–150% Positive correction</T>
      <T x={583.3} y={261.7} s={13.5} w={130}>{"<50% Positive correction"}</T>
      <T x={564} y={276} s={13.5} w={102}>Negative correction</T>

      {/* C */}
      <T x={160} y={335} s={17} a="middle" w={223}>Isogenic gene expression correction</T>
      <rect x={48.7} y={344.3} width={221.3} height={33.7} fill="#EFEFEF" stroke="#444" strokeWidth={1.2} />
      <circle cx={56.7} cy={352.7} r={3.4} fill="#7DE67B" />
      <circle cx={56.7} cy={368.3} r={3.4} fill="#E8301F" />
      <circle cx={198.3} cy={352.7} r={3.4} fill="#CBD3CF" />
      <circle cx={198.3} cy={368.3} r={3.4} fill="#8F877A" />
      <T x={66.7} y={356.5} s={10.5} w={119}>Corrected and not significant</T>
      <T x={66.7} y={372} s={10.5} w={119.3}>Corrected and still significant</T>
      <T x={208.3} y={356.5} s={10.5} w={55.7}>Not corrected</T>
      <T x={208.3} y={372} s={10.5} w={58.3}>Overcorrected</T>
      <T x={276} y={477} s={14} a="end" fill="#7DE67B" w={43}><tspan fontStyle="italic">n</tspan> = 2027</T>
      <T x={276} y={488.5} s={14} a="end" fill="#E8301F" w={36}><tspan fontStyle="italic">n</tspan> = 491</T>
      <T x={14} y={485} s={16.5} a="middle" w={270} rot>Gene expression correction in isogenic (%)</T>
      <text x={55} y={657} fontSize={14.5} fill={INK} fontFamily={SANS} textLength={208} lengthAdjust="spacingAndGlyphs">
        Log<tspan fontSize={9} dy={3}>2</tspan><tspan dy={-3}>fold change CANVAS vs control</tspan>
      </text>
      {L("M277 459 L306.7 326 H772", "2 3", 1.4, "#111")}
      {L("M277 562 L310 662.5 H765", "2 3", 1.4, "#111")}
      <T x={497.5} y={316.7} s={17.5} a="middle" w={380} u>Corrected and no longer statistically significant vs control</T>
      <T x={453.5} y={344} s={16} a="middle" w={160} u>Down-regulated in CANVAS</T>
      <T x={703} y={344} s={16} a="middle" w={143} u>Up-regulated in CANVAS</T>
      <T x={397.7} y={362} s={16} a="end" w={44} u>Process</T>
      <T x={397.7} y={457.7} s={16} a="end" w={64} u>Component</T>
      <T x={397.7} y={557.7} s={16} a="end" w={47} u>Function</T>
      <text x={428} y={651} fontSize={12} fill={INK} fontFamily={SANS} textLength={70} lengthAdjust="spacingAndGlyphs">
        -Log<tspan fontSize={7} dy={2.5}>10</tspan><tspan dy={-2.5}>(</tspan><tspan fontStyle="italic">P</tspan> value)
      </text>
      <text x={670} y={651} fontSize={12} fill={INK} fontFamily={SANS} textLength={68} lengthAdjust="spacingAndGlyphs">
        -Log<tspan fontSize={7} dy={2.5}>10</tspan><tspan dy={-2.5}>(</tspan><tspan fontStyle="italic">P</tspan> value)
      </text>

      {/* D */}
      <text x={66.7} y={702} fontSize={17} fill={INK} fontFamily={SANS} textLength={96} lengthAdjust="spacingAndGlyphs">
        Ca<tspan fontSize={9} dy={-5}>2+</tspan><tspan dy={5}> burst rate</tspan>
      </text>
      <text x={229.3} y={702} fontSize={17} fill={INK} fontFamily={SANS} textLength={121} lengthAdjust="spacingAndGlyphs">
        Ca<tspan fontSize={9} dy={-5}>2+</tspan><tspan dy={5}> burst strength</tspan>
      </text>
      <T x={460} y={702} s={17} a="middle" w={112}>Firing correlation</T>
      <T x={672} y={702} s={17} a="middle" w={112}>Firing correlation</T>
      <T x={27} y={820} s={15.5} a="middle" w={145} rot>Burst per minute (1/min)</T>
      <T x={194} y={821} s={15.5} a="middle" w={182} rot>Mean burst strength (OCU)</T>
      <T x={366.7} y={820} s={15.5} a="middle" w={100} rot>Mean correlation</T>
      <T x={555} y={826} s={15.5} a="middle" w={96} rot>Mean correlation</T>
      <T x={671.7} y={957} s={15} a="middle" w={39}>Weeks</T>

      {L("M72.3 731 V722.7 H132.3 V731", undefined, 1, "#222")}
      {L("M102.3 751.7 V744.7 H132.3 V751.7", undefined, 1, "#222")}
      {L("M132.3 768 V760.3 H162.3 V768", undefined, 1, "#222")}
      <T x={103} y={725} s={16} a="middle">***</T>
      <T x={117.3} y={748} s={16} a="middle">***</T>
      <T x={147.3} y={764} s={16} a="middle">*</T>
      {L("M242.3 732.7 V725.7 H304.7 V732.7", undefined, 1, "#222")}
      {L("M273.7 751.7 V744.7 H304.7 V751.7", undefined, 1, "#222")}
      {L("M303.3 768 V760.3 H333.7 V768", undefined, 1, "#222")}
      <T x={269.7} y={721.5} s={13} a="middle" w={13}>ns</T>
      <T x={288.7} y={748} s={16} a="middle">**</T>
      <T x={318.3} y={757} s={13} a="middle" w={13}>ns</T>
      {L("M413.3 731.7 V724.7 H474 V731.7", undefined, 1, "#222")}
      {L("M444 752 V745 H474 V752", undefined, 1, "#222")}
      {L("M476.3 768 V760.3 H506.7 V768", undefined, 1, "#222")}
      <T x={443.7} y={724} s={16} a="middle">***</T>
      <T x={459.3} y={748} s={16} a="middle">***</T>
      <T x={491} y={757} s={13} a="middle" w={13}>ns</T>

      {triangle(76.7, 951, 6.5, PINK, 0.8)}
      <T x={87} y={956.5} s={15} w={43}>Control</T>
      {circle(166.7, 951.5, 6.6, BLUE, 0.8)}
      <T x={176.7} y={956.5} s={15} w={54}>CANVAS</T>
      {square(250.7, 951.5, 6, GREEN, 0.6)}
      <T x={262.7} y={956.5} s={15} w={78}>Het. Isogenic</T>
      {square(381.7, 951.5, 6, ORANGE, 0.6)}
      <T x={394.3} y={956.5} s={15} w={82}>Heterozygous</T>

      {/* E legend */}
      {L("M601 735.7 H620.7 M601 753.7 H620.7 M601 771.7 H620.7", undefined, 1, "#333")}
      {triangle(611, 735.7, 3.8, { fill: "#F4A9B4", stroke: "#8E5560" })}
      {circle(611, 753.7, 3.4, { fill: "#7FA3D8", stroke: "#3F5F8F" })}
      {square(611, 771.7, 3.2, { fill: "#4BC424", stroke: "#2D6F18" })}
      <T x={626} y={741} s={15} w={40}>Control</T>
      <T x={626} y={759} s={15} w={50.7}>CANVAS</T>
      <T x={626} y={777} s={15} w={49}>Isogenic</T>
    </svg>
  );
}

export default function App() {
  const fmt1 = (v: number) => v.toFixed(1);
  return (
    <div style={{ position: "absolute", left: 0, top: 0, width: 776, height: 961, background: "#fff", overflow: "hidden" }}>
      <PcaPanel />
      <PiePanel />
      <ShareBars top={56} shares={upShares} colors={upColors} />
      <ShareBars top={145} shares={downShares} colors={downColors} />
      <VolcanoPanel />

      <EnrichBars axisX={401.3} axisY={368} w={124} h={72.7} names={processDownNames} values={processDownValues} domain={[-0.8, 18.4]} ticks={[0, 5, 10, 15]} color="#4A50AE" />
      <EnrichBars axisX={401.3} axisY={463.7} w={124} h={75.6} names={componentDownNames} values={componentDownValues} domain={[-1.25, 26]} ticks={[0, 5, 10, 15, 20, 25]} color="#4A50AE" />
      <EnrichBars axisX={401.3} axisY={565.3} w={124} h={75.4} names={functionDownNames} values={functionDownValues} domain={[-0.87, 18.1]} ticks={[0, 5, 10, 15]} color="#4A50AE" />
      <EnrichBars axisX={642.7} axisY={368} w={124} h={72.7} names={processUpNames} values={processUpValues} domain={[-0.74, 15.64]} ticks={[0, 5, 10, 15]} color="#E33424" />
      <EnrichBars axisX={642.7} axisY={463.7} w={124} h={75.6} names={componentUpNames} values={componentUpValues} domain={[-0.74, 15.64]} ticks={[0, 5, 10, 15]} color="#E33424" />
      <EnrichBars axisX={642.7} axisY={565.3} w={124} h={75.4} names={functionUpNames} values={functionUpValues} domain={[-0.62, 13.07]} ticks={[0, 4, 8, 12]} color="#E33424" />

      <Swarm axisX={54.3} right={171.7} yTop={722.7} yZero={923.3} c0={73.3} step={28.7} max={8} ticks={[0, 2, 4, 6, 8]} means={rateMeans} sd={rateSd} groups={[rateControl, rateCanvas, rateIsogenic, rateHet]} />
      <Swarm axisX={226.7} right={351.7} yTop={723.3} yZero={923.3} c0={246} step={28.9} max={1} ticks={[0, 0.2, 0.4, 0.6, 0.8, 1]} fmt={fmt1} means={strengthMeans} sd={strengthSd} groups={[strengthControl, strengthCanvas, strengthIsogenic, strengthHet]} />
      <Swarm axisX={399} right={525} yTop={721.7} yZero={923.3} c0={417.7} step={29.1} max={1} ticks={[0, 0.2, 0.4, 0.6, 0.8, 1]} fmt={fmt1} means={firingMeans} sd={firingSd} groups={[firingControl, firingCanvas, firingIsogenic, firingHet]} />
      <TimeCourse />
      <Overlay />
    </div>
  );
}
